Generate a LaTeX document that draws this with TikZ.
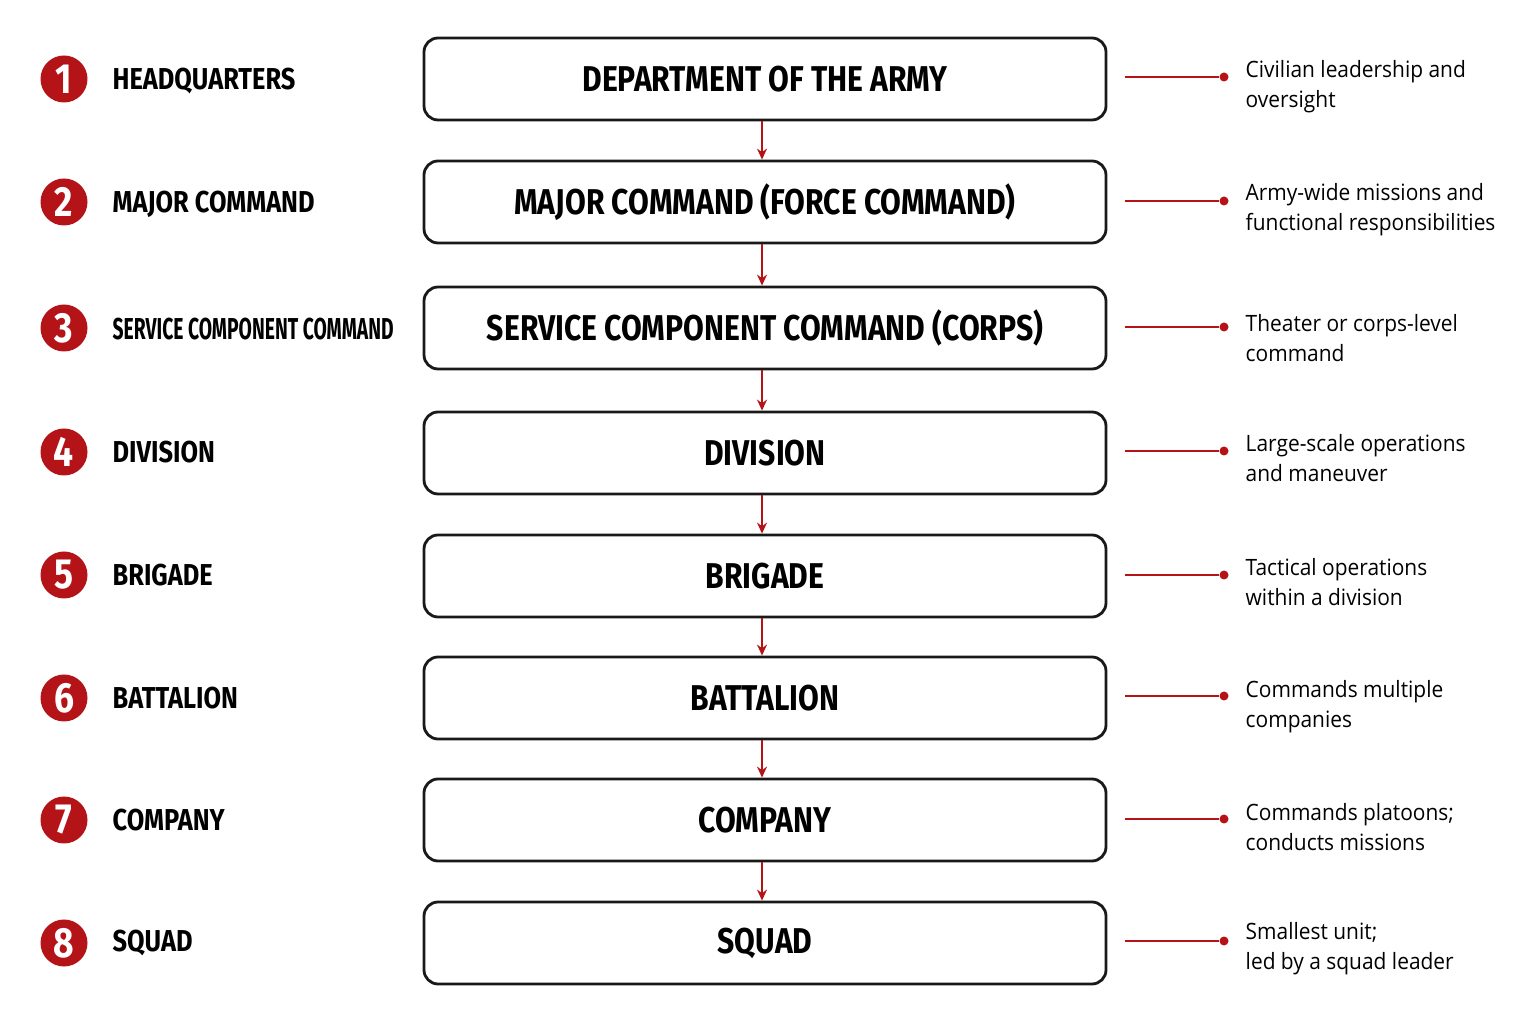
\documentclass[tikz,border=0pt]{standalone}
\usepackage{fontspec}
\usepackage{tikz}
\usetikzlibrary{arrows.meta, positioning}
\usepackage{xcolor}
\newfontfamily\condfont[FakeStretch=0.84]{Fira Sans}
\newfontfamily\descfont[FakeStretch=0.93]{Open Sans}
\definecolor{mred}{RGB}{180,20,24}
\definecolor{mdark}{RGB}{25,25,25}

\begin{document}
\begin{tikzpicture}[
  unit/.style={draw=mdark,line width=0.8pt,rounded corners=4pt,fill=white,
               minimum width=6.82cm,minimum height=0.82cm,
               font=\condfont\bfseries\fontsize{10.2}{12}\selectfont},
  num/.style={circle,fill=mred,text=white,minimum size=0.47cm,inner sep=0pt,
              font=\condfont\bfseries\fontsize{12}{14}\selectfont},
  lvl/.style={anchor=west,inner sep=0pt,font=\condfont\bfseries\fontsize{8.6}{10}\selectfont},
  desc/.style={anchor=west,inner sep=0pt,align=left,
               font=\descfont\fontsize{6.4}{8.5}\selectfont},
  dot/.style={circle,fill=mred,minimum size=0.09cm,inner sep=0pt},
  arr/.style={-{Stealth[length=1.1mm,width=1mm]},mred,line width=0.5pt},
  lead/.style={mred,line width=0.5pt,shorten <=0.18cm}
]
\useasboundingbox (0,0) rectangle (15.36,-10.23);

% ranks on the left
\node[num] (n1) at (0.64,-0.79) {1};
\node[num] (n2) at (0.64,-2.02) {2};
\node[num] (n3) at (0.64,-3.28) {3};
\node[num] (n4) at (0.64,-4.52) {4};
\node[num] (n5) at (0.64,-5.75) {5};
\node[num] (n6) at (0.64,-6.98) {6};
\node[num] (n7) at (0.64,-8.20) {7};
\node[num] (n8) at (0.64,-9.43) {8};

\node[lvl] (l1) at (1.12,-0.81) {HEADQUARTERS};
\node[lvl] (l2) at (1.12,-2.04) {MAJOR COMMAND};
\node[lvl] (l3) at (1.12,-3.29) {\scalebox{0.76}[1]{SERVICE COMPONENT COMMAND}};
\node[lvl] (l4) at (1.12,-4.52) {DIVISION};
\node[lvl] (l5) at (1.12,-5.75) {BRIGADE};
\node[lvl] (l6) at (1.12,-6.98) {BATTALION};
\node[lvl] (l7) at (1.12,-8.20) {COMPANY};
\node[lvl] (l8) at (1.12,-9.43) {SQUAD};

% chain of command
\node[unit] (dept) at (7.65,-0.79) {DEPARTMENT OF THE ARMY};
\node[unit] (maj)  at (7.65,-2.02) {MAJOR COMMAND (FORCE COMMAND)};
\node[unit] (scc)  at (7.65,-3.28) {SERVICE COMPONENT COMMAND (CORPS)};
\node[unit] (div)  at (7.65,-4.53) {DIVISION};
\node[unit] (brig) at (7.65,-5.76) {BRIGADE};
\node[unit] (bn)   at (7.65,-6.98) {BATTALION};
\node[unit] (coy)  at (7.65,-8.20) {COMPANY};
\node[unit] (sqd)  at (7.65,-9.43) {SQUAD};

\draw[arr] ([xshift=-0.03cm]dept.south) -- ([xshift=-0.03cm]maj.north);
\draw[arr] ([xshift=-0.03cm]maj.south)  -- ([xshift=-0.03cm]scc.north);
\draw[arr] ([xshift=-0.03cm]scc.south)  -- ([xshift=-0.03cm]div.north);
\draw[arr] ([xshift=-0.03cm]div.south)  -- ([xshift=-0.03cm]brig.north);
\draw[arr] ([xshift=-0.03cm]brig.south) -- ([xshift=-0.03cm]bn.north);
\draw[arr] ([xshift=-0.03cm]bn.south)   -- ([xshift=-0.03cm]coy.north);
\draw[arr] ([xshift=-0.03cm]coy.south)  -- ([xshift=-0.03cm]sqd.north);

% roles on the right
\node[dot] (p1) at (12.24,-0.77) {};
\node[dot] (p2) at (12.24,-2.01) {};
\node[dot] (p3) at (12.24,-3.27) {};
\node[dot] (p4) at (12.24,-4.51) {};
\node[dot] (p5) at (12.24,-5.75) {};
\node[dot] (p6) at (12.24,-6.96) {};
\node[dot] (p7) at (12.24,-8.19) {};
\node[dot] (p8) at (12.24,-9.41) {};

\draw[lead] (dept.east |- p1) -- (p1);
\draw[lead] (maj.east |- p2)  -- (p2);
\draw[lead] (scc.east |- p3)  -- (p3);
\draw[lead] (div.east |- p4)  -- (p4);
\draw[lead] (brig.east |- p5) -- (p5);
\draw[lead] (bn.east |- p6)   -- (p6);
\draw[lead] (coy.east |- p7)  -- (p7);
\draw[lead] (sqd.east |- p8)  -- (p8);

\node[desc] (d1) at (12.45,-0.87) {Civilian leadership and\\oversight};
\node[desc] (d2) at (12.45,-2.10) {Army-wide missions and\\functional responsibilities};
\node[desc] (d3) at (12.45,-3.38) {Theater or corps-level\\command};
\node[desc] (d4) at (12.45,-4.58) {Large-scale operations\\and maneuver};
\node[desc] (d5) at (12.45,-5.82) {Tactical operations\\within a division};
\node[desc] (d6) at (12.45,-7.07) {Commands multiple\\companies};
\node[desc] (d7) at (12.45,-8.27) {Commands platoons;\\conducts missions};
\node[desc] (d8) at (12.45,-9.49) {Smallest unit;\\led by a squad leader};
\end{tikzpicture}
\end{document}
